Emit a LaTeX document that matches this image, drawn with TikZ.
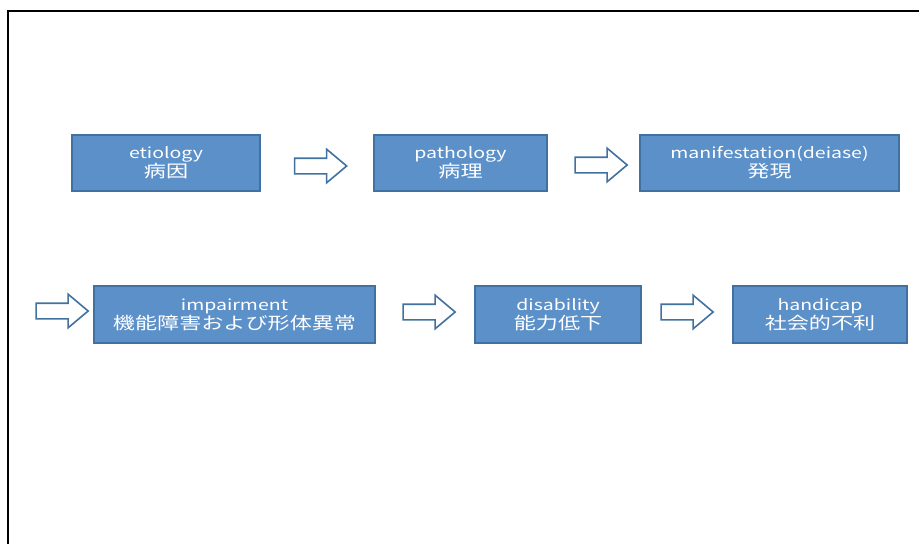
\documentclass[tikz,border=0pt]{standalone}
\usepackage{fontspec}
\setmainfont{Noto Sans CJK JP}[FakeStretch=1.3]
\usetikzlibrary{shapes.arrows}
\definecolor{boxblue}{RGB}{92,144,201}
\definecolor{edgeblue}{RGB}{65,113,160}
\newcommand\jpline[1]{{\fontsize{17}{19}\selectfont #1}}
\tikzset{
  stage/.style={draw=edgeblue, line width=1.5pt, fill=boxblue, text=white,
    align=center, inner sep=0pt, minimum height=56pt,
    font=\fontsize{15}{19}\selectfont},
  flow/.style={single arrow, draw=edgeblue, line width=1.6pt, fill=white,
    inner sep=7pt, minimum height=52pt, single arrow head extend=9pt,
    single arrow tip angle=80},
}
\begin{document}
\begin{tikzpicture}[x=1pt, y=-1pt]
  \useasboundingbox (0,0) rectangle (919,544);
  \draw[line width=2.3pt] (8,544) -- (8,11) -- (919,11);

  % first row
  \node[stage, minimum width=188pt] (etio)  at (166,163)   {etiology\\\jpline{病因}};
  \node[stage, minimum width=173pt] (patho) at (460.5,163) {pathology\\\jpline{病理}};
  \node[stage, minimum width=259pt] (manif) at (769.5,163) {manifestation(deiase)\\\jpline{発現}};
  \node[flow] (a1) at (316,166) {};
  \node[flow] (a2) at (596.5,165) {};

  % second row
  \node[stage, minimum width=281pt, minimum height=57pt] (impair) at (234.5,314.5) {impairment\\\jpline{機能障害および形体異常}};
  \node[stage, minimum width=166pt, minimum height=57pt] (disab)  at (558,314.5)   {disability\\\jpline{能力低下}};
  \node[stage, minimum width=174pt, minimum height=57pt] (handi)  at (820,314.5)   {handicap\\\jpline{社会的不利}};
  \node[flow] (a3) at (57.5,311) {};
  \node[flow] (a4) at (424.5,312) {};
  \node[flow] (a5) at (682.5,312) {};
\end{tikzpicture}
\end{document}
